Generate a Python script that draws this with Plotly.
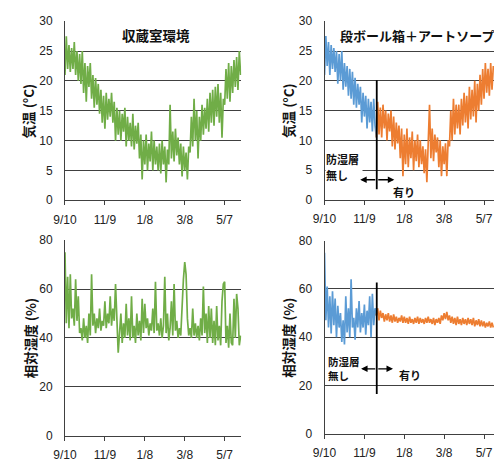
import plotly.graph_objects as go
import pandas as pd

# ---------------- data ----------------
START = "2011-09-10"
STEP_DAYS = 2
tick_dates = ["2011-09-10", "2011-11-09", "2012-01-08", "2012-03-08", "2012-05-07"]
tick_labels = ["9/10", "11/9", "1/8", "3/8", "5/7"]
boundary_date = "2011-11-27 14:00"   # 防湿層 無し → 有り

# 収蔵室環境: temperature (°C), every 2 days from 9/10
room_temp = [
    21, 27.5, 22, 26, 21.5, 25.5, 22, 26.5, 21, 25,
    20, 24.5, 19.5, 25, 18, 23, 16.5, 22.5, 19, 23,
    17, 21, 15.5, 20.5, 16, 19.5, 14.5, 18.5, 13, 17.5,
    12, 18, 13.5, 17, 14, 18, 13, 16.5, 10, 15.5,
    11, 15, 10, 14.5, 11.5, 15.5, 9, 14, 10, 13,
    9, 14.5, 8.5, 12.5, 9.5, 13, 7, 11, 3.5, 10,
    6, 11, 5, 9.5, 6.5, 11.5, 5, 10, 6, 9,
    5, 9.5, 4.5, 10, 6, 9, 3, 8.5, 6, 16,
    7, 11.5, 6.5, 12, 7.5, 10.5, 6, 9.5, 4, 9,
    5, 8, 3.5, 9, 8, 14, 9, 17, 10, 15,
    7, 14, 10, 16, 11, 15.5, 12, 17, 11.5, 18,
    13, 18.5, 12.5, 19, 14, 19.5, 13, 18, 10.5, 17,
    16, 22, 17, 23, 16.5, 22.5, 18, 23.5, 19, 24,
    18.5, 25, 21,
]

# 収蔵室環境: relative humidity (%)
room_rh = [
    75, 46, 65, 44, 66, 48, 52, 45, 64, 47,
    57, 42, 44, 39, 48, 40, 45, 38, 50, 41,
    66, 45, 50, 42, 48, 44, 52, 43, 47, 45,
    55, 44, 50, 46, 57, 45, 52, 47, 62, 44,
    34, 42, 50, 38, 46, 40, 54, 41, 48, 39,
    57, 40, 45, 38, 50, 41, 47, 39, 56, 42,
    54, 44, 48, 41, 46, 43, 52, 42, 63, 43,
    46, 41, 48, 40, 45, 65, 42, 50, 39, 44,
    55, 41, 62, 43, 47, 40, 44, 41, 57, 64,
    71, 66, 48, 41, 44, 40, 52, 41, 46, 40,
    45, 39, 48, 41, 61, 42, 50, 38, 53, 40,
    52, 38, 47, 37, 53, 39, 45, 37, 55, 62,
    63, 38, 45, 36, 50, 38, 37, 56, 40, 58,
    52, 37, 41,
]

# 段ボール箱＋アートソープ: temperature, without barrier (days 0-78)
box_temp_without = [
    21, 27.5, 22.5, 26.5, 21, 26, 22, 25.5, 21.5, 25,
    19.5, 24.5, 20, 25, 18.5, 23, 19, 22.5, 17.5, 22,
    17, 21.5, 16, 20.5, 15.5, 19.5, 16, 19, 13, 18,
    14, 17.5, 12, 17, 13, 16.5, 11.5, 17, 12.5, 10.5,
]
# with barrier (days 78-254)
box_temp_with = [
    10.5,
    16.5, 11, 15.5, 10.5, 16, 12, 15, 10, 14.5, 11.5,
    15, 9, 14, 8.5, 13, 9.5, 12.5, 7, 12, 4,
    11, 6, 12, 5.5, 10.5, 7, 11.5, 5, 10, 6.5,
    11, 5.5, 10, 6, 9, 4.5, 8.5, 3, 9, 16,
    7, 12, 6.5, 11, 8, 10.5, 5.5, 10, 4, 9,
    6, 9.5, 4, 10, 9, 15, 10, 17, 11, 16,
    12, 16, 11, 17, 12.5, 18, 13, 17.5, 12, 19,
    13.5, 18.5, 14, 20, 13, 19.5, 15, 21, 16, 22,
    17, 23, 18, 22, 17.5, 23, 18.5, 22.5,
]

box_rh_without = [
    75, 47, 61, 44, 57, 41.5, 59, 45, 56, 40,
    53, 44, 50, 38, 47, 37, 57, 42, 52, 40,
    64, 44, 48, 39, 52, 44, 55, 42, 50, 44,
    53.5, 41, 51, 45, 57, 40, 58, 45, 52, 49,
]
box_rh_with = [
    49,
    52, 47, 51, 48, 50, 46.5, 49.5, 47, 50, 46.5,
    49, 46, 49.5, 46.5, 48.5, 46, 48, 46.5, 49, 46,
    48.5, 46, 48, 45.5, 48.5, 46, 47.5, 45.5, 48, 46,
    48.5, 45.5, 48, 46, 47.5, 45.5, 48, 46, 48.5, 46,
    47.5, 45.5, 48, 45, 47.5, 46, 48, 45.5, 49, 47,
    50, 47.5, 50.5, 47, 49, 46, 48.5, 45.5, 48, 45,
    48.5, 45.5, 47.5, 45, 48, 45.5, 47.5, 45, 48, 45.5,
    47.5, 45, 48, 44.5, 47, 45, 47.5, 44.5, 47, 44.5,
    46.5, 44, 46, 44.5, 46.5, 44, 46, 44,
]

# ---------------- dates ----------------
start = pd.Timestamp(START)
def dates_from(offset_days, n):
    return [start + pd.Timedelta(days=offset_days + STEP_DAYS * i) for i in range(n)]

d_room = dates_from(0, len(room_temp))
d_room_rh = dates_from(0, len(room_rh))
d_without = dates_from(0, len(box_temp_without))
d_with = dates_from(78, len(box_temp_with))
d_rh_without = dates_from(0, len(box_rh_without))
d_rh_with = dates_from(78, len(box_rh_with))

GREEN = "#70AD47"
BLUE = "#5B9BD5"
ORANGE = "#ED7D31"
GRID = "#404040"
W, H = 494, 463

fig = go.Figure()
line_w = 1.7
fig.add_trace(go.Scatter(x=d_room, y=room_temp, mode="lines", line=dict(color=GREEN, width=line_w), xaxis="x", yaxis="y"))
fig.add_trace(go.Scatter(x=d_without, y=box_temp_without, mode="lines", line=dict(color=BLUE, width=line_w), xaxis="x2", yaxis="y2"))
fig.add_trace(go.Scatter(x=d_with, y=box_temp_with, mode="lines", line=dict(color=ORANGE, width=line_w), xaxis="x2", yaxis="y2"))
fig.add_trace(go.Scatter(x=d_room_rh, y=room_rh, mode="lines", line=dict(color=GREEN, width=line_w), xaxis="x3", yaxis="y3"))
fig.add_trace(go.Scatter(x=d_rh_without, y=box_rh_without, mode="lines", line=dict(color=BLUE, width=line_w), xaxis="x4", yaxis="y4"))
fig.add_trace(go.Scatter(x=d_rh_with, y=box_rh_with, mode="lines", line=dict(color=ORANGE, width=line_w), xaxis="x4", yaxis="y4"))

def px_x(p):
    return p / W
def px_y(p):
    return 1 - p / H

tick_font = dict(family="Liberation Sans, Arial, sans-serif", size=12, color="#222")

def xaxis(dom, days, anchor):
    return dict(domain=dom, anchor=anchor, type="date",
                range=[start, start + pd.Timedelta(days=days)],
                tickvals=tick_dates, ticktext=tick_labels,
                ticks="outside", ticklen=4, tickcolor=GRID, tickwidth=1,
                showline=True, linecolor=GRID, linewidth=1,
                showgrid=False, zeroline=False, tickfont=tick_font,
                ticklabelstandoff=4, fixedrange=True)

def yaxis(dom, rng, dtick, anchor):
    return dict(domain=dom, anchor=anchor, range=rng, dtick=dtick,
                showline=True, linecolor=GRID, linewidth=1,
                showgrid=True, gridcolor=GRID, gridwidth=1,
                zeroline=False, ticks="", tickfont=tick_font,
                ticklabelstandoff=9, fixedrange=True)

xl = [px_x(54.3), px_x(235)]
xr = [px_x(320.3), 1.0]
fig.update_layout(
    width=W, height=H, margin=dict(l=0, r=0, t=0, b=0),
    paper_bgcolor="white", plot_bgcolor="white", showlegend=False,
    xaxis=xaxis(xl, 265, "y"),
    yaxis=yaxis([px_y(199.3), px_y(14.7)], [0, 30], 5, "x"),
    xaxis2=xaxis(xr, 255, "y2"),
    yaxis2=yaxis([px_y(199), px_y(14.7)], [0, 30], 5, "x2"),
    xaxis3=xaxis(xl, 265, "y3"),
    yaxis3=yaxis([px_y(442.3), px_y(240.3)], [0, 80], 20, "x3"),
    xaxis4=xaxis(xr, 255, "y4"),
    yaxis4=yaxis([px_y(440), px_y(241)], [0, 80], 20, "x4"),
)

JP = "Noto Sans CJK JP"
ann = []
def txt(text, x, y, size=13, bold=True, angle=0, xanchor="center", bg=None, width=None, align="center"):
    d = dict(text=("<b>%s</b>" % text) if bold else text, x=px_x(x), y=px_y(y),
             xref="paper", yref="paper", showarrow=False, textangle=angle,
             xanchor=xanchor, yanchor="middle", align=align,
             font=dict(family=JP, size=size, color="#111"))
    if bg:
        d["bgcolor"] = bg
        d["borderpad"] = 0
    if width:
        d["width"] = width
    ann.append(d)

txt("収蔵室環境", 148, 29, 13.5)
txt("段ボール箱＋アートソープ", 415, 29, 13)
txt("気温 (°C)", 16, 107, 13.5, angle=-90)
txt("気温 (°C)", 283, 107, 13.5, angle=-90)
txt("相対湿度 (%)", 18, 342, 13.5, angle=-90)
txt("相対湿度 (%)", 283, 341, 13.5, angle=-90)

# 防湿層 labels
txt("防湿層", 321, 157, 11, xanchor="left", bg="white", width=36, align="left")
txt("無し", 321, 173, 11, xanchor="left", bg="white", width=36, align="left")
txt("有り", 402, 191, 11)
txt("防湿層<br>無し", 322, 372.5, 10.5, xanchor="left", align="left")
txt("有り", 408, 379, 11)

# double arrows from the boundary outward
def arrow(xref, yref, xa, ya, xtip, ytip):
    ann.append(dict(x=xtip, y=ytip, ax=xa, ay=ya, xref=xref, yref=yref,
                    axref=xref, ayref=yref, showarrow=True, text="",
                    arrowhead=2, arrowsize=1, arrowwidth=1.3, arrowcolor="#000"))

bd = pd.Timestamp(boundary_date)
arrow("x2", "y2", bd, 3.4, start + pd.Timedelta(days=53.7), 3.4)
arrow("x2", "y2", bd, 3.4, start + pd.Timedelta(days=105), 3.4)
arrow("x4", "y4", bd, 26.9, start + pd.Timedelta(days=55), 26.9)
arrow("x4", "y4", bd, 26.9, start + pd.Timedelta(days=103), 26.9)

fig.update_layout(annotations=ann)

fig.add_shape(type="line", xref="x2", yref="y2", x0=bd, x1=bd, y0=1.8, y1=20.1,
              line=dict(color="#000", width=1.8))
fig.add_shape(type="line", xref="x4", yref="y4", x0=bd, x1=bd, y0=16.5, y1=62.7,
              line=dict(color="#000", width=1.8))

fig.write_html("out.html", config={"displayModeBar": False},
               post_script="document.body.style.margin='0';document.body.style.overflow='hidden';")
